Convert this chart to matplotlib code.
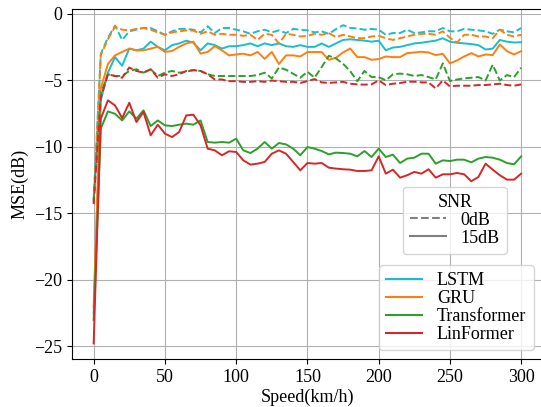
import matplotlib
matplotlib.use('Agg')
import matplotlib.pyplot as plt
from matplotlib.lines import Line2D

# ========== DATA ==========
speed = [0, 5, 10, 15, 20, 25, 30, 35, 40, 45,
         50, 55, 60, 65, 70, 75, 80, 85, 90, 95,
         100, 105, 110, 115, 120, 125, 130, 135, 140, 145,
         150, 155, 160, 165, 170, 175, 180, 185, 190, 195,
         200, 205, 210, 215, 220, 225, 230, 235, 240, 245,
         250, 255, 260, 265, 270, 275, 280, 285, 290, 295,
         300]

models = ['LSTM', 'GRU', 'Transformer', 'LinFormer']
colors = ['#17becf', '#ff7f0e', '#2ca02c', '#d62728']

# SNR = 0dB (dashed)
lstm_0db = [-14.0, -3.0, -1.8, -0.88, -1.96, -1.31, -1.19, -1.06, -1.06, -1.31,
            -1.57, -1.31, -1.13, -1.13, -1.19, -1.39, -0.93, -1.44, -1.06, -1.06,
            -1.19, -1.31, -1.50, -1.31, -1.19, -1.39, -1.24, -1.44, -1.13, -1.19,
            -1.24, -1.39, -1.31, -1.50, -1.15, -0.85, -1.05, -1.10, -1.19, -1.13,
            -1.19, -1.57, -1.44, -1.44, -1.19, -1.44, -1.39, -1.31, -1.31, -1.06,
            -1.31, -1.31, -1.13, -1.19, -1.24, -1.31, -1.50, -1.19, -1.31, -1.39,
            -1.06]
gru_0db = [-14.2, -3.1, -1.9, -0.95, -1.19, -1.24, -1.13, -1.06, -1.19, -1.39,
           -1.57, -1.39, -1.31, -1.24, -1.26, -1.50, -1.31, -1.57, -1.50, -1.57,
           -1.57, -1.65, -1.57, -1.96, -1.50, -1.57, -2.22, -1.50, -1.57, -1.70,
           -1.65, -1.50, -1.57, -1.44, -1.75, -1.57, -1.70, -1.83, -1.83, -1.70,
           -1.65, -1.83, -1.96, -1.83, -1.70, -1.57, -1.50, -1.50, -1.57, -1.31,
           -1.80, -2.15, -1.57, -1.57, -1.70, -1.70, -1.83, -1.19, -1.57, -1.70,
           -1.57]
transformer_0db = [-14.1, -6.0, -4.54, -4.67, -4.67, -4.29, -4.16, -4.42, -4.16, -4.67,
                   -4.42, -4.29, -4.42, -4.34, -4.23, -4.29, -4.54, -4.67, -4.67, -4.67,
                   -4.67, -4.67, -4.67, -4.60, -4.42, -4.85, -4.03, -4.20, -4.50, -4.80,
                   -4.35, -4.80, -4.00, -3.15, -3.35, -3.75, -4.30, -5.06, -4.29, -4.75,
                   -4.75, -5.00, -4.54, -4.49, -4.54, -4.67, -4.60, -4.75, -4.93, -3.72,
                   -5.05, -4.93, -4.85, -4.80, -4.75, -5.01, -3.82, -5.01, -4.60, -4.75,
                   -4.05]
linformer_0db = [-14.3, -6.3, -4.54, -4.67, -4.80, -4.03, -4.29, -4.42, -4.16, -4.80,
                 -4.54, -4.67, -4.54, -4.29, -4.23, -4.29, -4.54, -4.93, -4.93, -5.06,
                 -5.06, -5.11, -5.11, -5.06, -5.11, -5.01, -5.06, -5.11, -5.11, -5.19,
                 -5.06, -4.90, -5.15, -5.19, -5.15, -5.11, -5.25, -5.30, -5.32, -5.30,
                 -5.00, -5.35, -5.25, -5.20, -5.10, -5.10, -5.15, -5.15, -5.60, -5.00,
                 -5.45, -5.40, -5.40, -5.40, -5.35, -5.35, -5.30, -5.25, -5.35, -5.40,
                 -5.30]

# SNR = 15dB (solid)
lstm_15db = [-22.5, -6.5, -4.42, -3.25, -3.90, -2.61, -2.74, -2.61, -2.09, -2.48,
             -2.74, -2.35, -2.22, -2.01, -2.17, -2.74, -2.22, -2.35, -2.61, -2.43,
             -2.43, -2.35, -2.22, -2.43, -2.22, -2.35, -2.22, -2.43, -2.48, -2.35,
             -2.48, -2.48, -2.22, -2.48, -2.22, -1.96, -1.91, -1.96, -2.01, -2.09,
             -2.01, -2.74, -2.53, -2.48, -2.35, -2.22, -2.17, -2.09, -2.01, -1.83,
             -2.09, -2.17, -2.22, -2.27, -2.35, -2.68, -2.61, -1.96, -2.09, -2.15,
             -2.13]
gru_15db = [-22.0, -5.6, -3.77, -3.12, -2.86, -2.61, -2.74, -2.74, -2.61, -2.48,
            -2.86, -2.79, -2.48, -2.22, -2.09, -2.99, -2.86, -2.43, -2.74, -3.12,
            -3.05, -2.99, -3.12, -2.86, -3.38, -2.86, -3.77, -3.12, -3.12, -3.20,
            -2.87, -2.87, -2.87, -3.45, -3.30, -2.90, -2.60, -3.25, -3.25, -3.45,
            -3.40, -3.20, -3.25, -3.25, -2.95, -2.90, -2.85, -2.90, -3.10, -3.00,
            -3.72, -3.50, -3.20, -2.95, -3.20, -3.05, -3.10, -2.30, -2.80, -3.05,
            -2.80]
transformer_15db = [-23.0, -8.63, -7.33, -7.51, -8.01, -7.33, -7.88, -7.25, -8.43, -8.01,
                    -8.38, -8.43, -8.33, -8.25, -8.33, -8.01, -9.63, -9.68, -9.63, -9.68,
                    -9.38, -10.26, -10.46, -10.13, -9.63, -10.13, -9.71, -9.81, -10.13, -10.63,
                    -10.01, -10.13, -10.31, -10.56, -10.43, -10.46, -10.51, -10.71, -10.31, -10.76,
                    -10.13, -10.76, -10.58, -11.21, -10.88, -10.81, -10.51, -10.51, -11.26, -11.01,
                    -11.06, -10.96, -10.96, -11.16, -10.88, -10.76, -10.81, -10.96, -11.21, -11.31,
                    -10.71]
linformer_15db = [-24.77, -7.88, -6.50, -6.88, -7.83, -6.68, -8.13, -7.38, -9.13, -8.33,
                  -9.00, -9.26, -8.88, -7.63, -7.58, -8.38, -10.13, -10.26, -10.63, -10.33,
                  -10.38, -11.01, -11.33, -11.26, -11.13, -10.51, -10.26, -10.51, -11.13, -11.76,
                  -11.21, -11.26, -11.21, -11.56, -11.63, -11.68, -11.71, -11.81, -11.81, -11.76,
                  -10.71, -12.01, -11.71, -12.31, -12.13, -11.88, -12.01, -11.68, -12.31, -12.06,
                  -12.06, -11.96, -12.06, -12.58, -12.26, -11.26, -11.71, -12.13, -12.46, -12.46,
                  -12.01]

series_0db = [lstm_0db, gru_0db, transformer_0db, linformer_0db]
series_15db = [lstm_15db, gru_15db, transformer_15db, linformer_15db]

# ========== PLOT ==========
plt.rcParams['font.family'] = ['Liberation Serif', 'DejaVu Serif']
plt.rcParams['font.size'] = 13

fig = plt.figure(figsize=(5.41, 4.07), dpi=100)
ax = fig.add_axes([0.1336, 0.1172, 0.8693, 0.86])

for name, c, y0, y15 in zip(models, colors, series_0db, series_15db):
    ax.plot(speed, y0, '--', color=c, lw=1.4)
    ax.plot(speed, y15, '-', color=c, lw=1.4)

ax.set_xlabel('Speed(km/h)', labelpad=2)
ax.set_ylabel('MSE(dB)')
ax.set_xticks([0, 50, 100, 150, 200, 250, 300])
ax.set_yticks([0, -5, -10, -15, -20, -25])
ax.grid(True)

model_handles = [Line2D([], [], color=c, lw=1.5) for c in colors]
leg1 = ax.legend(model_handles, models, loc='lower right', labelspacing=0.05)
ax.add_artist(leg1)

snr_handles = [Line2D([], [], color='gray', ls='--', lw=1.5),
               Line2D([], [], color='gray', ls='-', lw=1.5)]
ax.legend(snr_handles, ['0dB', '15dB'], title='SNR', loc='lower right',
          bbox_to_anchor=(0.924, 0.301), borderaxespad=0, labelspacing=0.05)

fig.savefig('out.png', dpi=100)
